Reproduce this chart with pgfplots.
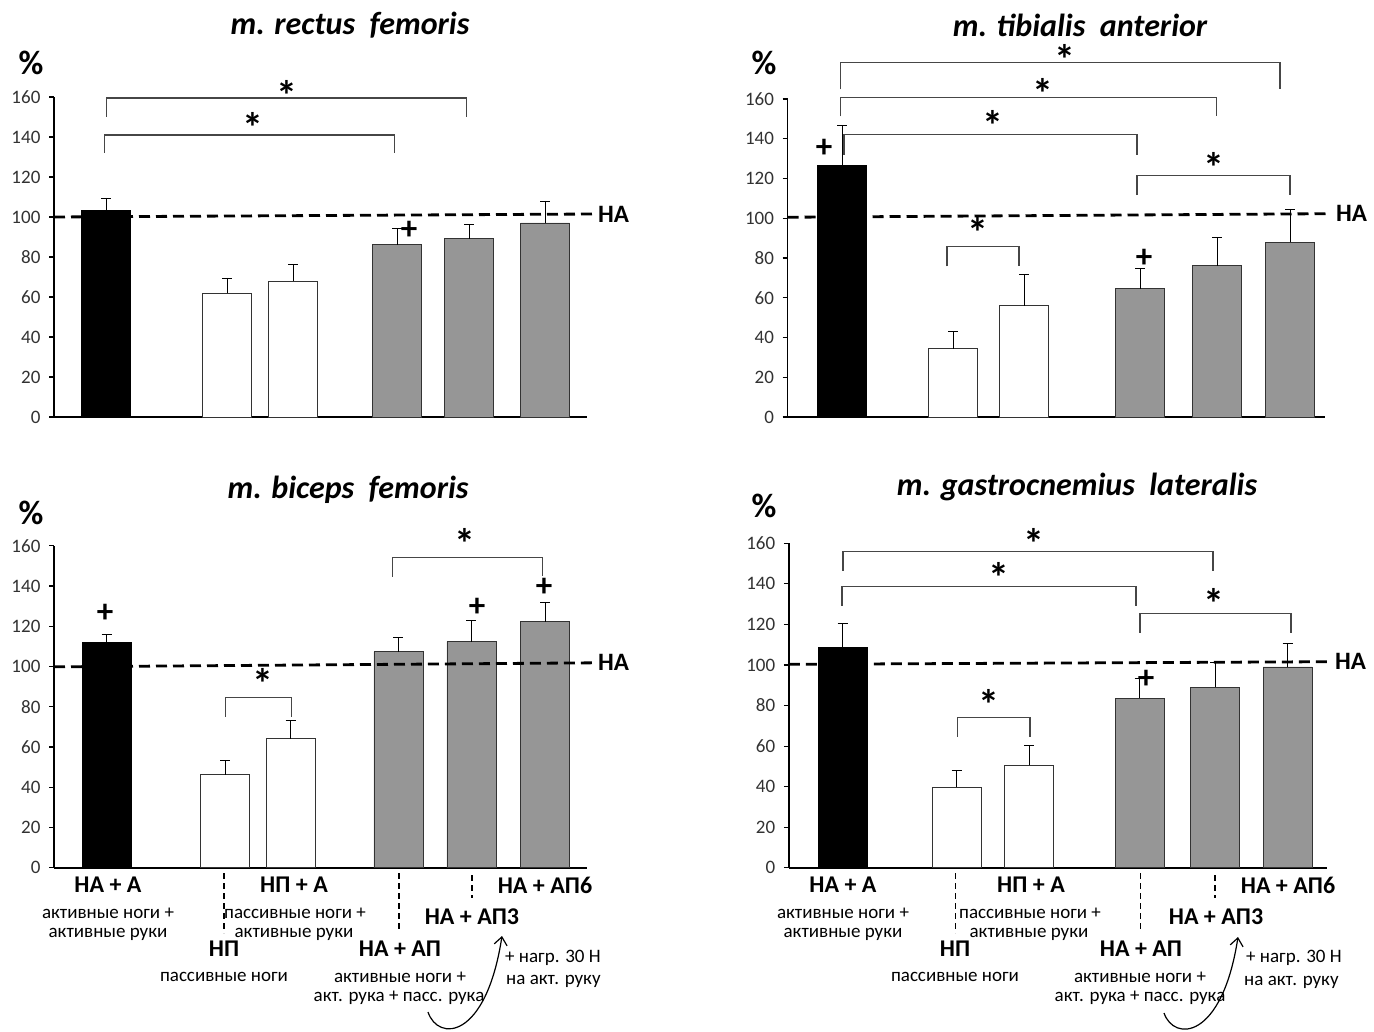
\documentclass[border=0pt]{standalone}
\usepackage{pgfplots}
\pgfplotsset{compat=1.18}
\usepackage{fontspec}
\setmainfont{Carlito}
\usetikzlibrary{arrows.meta}
\definecolor{bargray}{RGB}{150,150,150}
\definecolor{tickgray}{RGB}{50,50,50}
\definecolor{brk}{RGB}{70,70,70}
\pgfplotsset{
  panel/.style={
    scale only axis, clip=false, anchor=south west,
    axis x line*=bottom, axis y line*=left,
    ymin=0, ymax=160, ytick={0,20,40,60,80,100,120,140,160},
    yticklabels={0,20,40,60,80,100,120,140,160},
    xtick=\empty,
    tick align=outside, major tick length=5pt,
    yticklabel style={font=\fontsize{10}{10}\selectfont, scale=1.9, text=tickgray, xshift=-1pt},
    x axis line style={line width=2.2pt},
    y axis line style={line width=1.4pt},
    ytick style={line width=1.1pt, black},
  },
  errs/.style={
    error bars/y dir=plus, error bars/y explicit,
    error bars/error bar style={line width=0.8pt, black},
    error bars/error mark options={rotate=90, mark size=5pt, line width=0.8pt, black},
  },
  bk/.style={ybar, bar width=49pt, bar shift=0pt, fill=black, draw=black, line width=0.8pt, errs},
  wh/.style={ybar, bar width=49pt, bar shift=0pt, fill=white, draw=black!80, line width=0.8pt, errs},
  gr/.style={ybar, bar width=49pt, bar shift=0pt, fill=bargray, draw=black!80, line width=0.8pt, errs},
  naline/.style={black, line width=2.8pt, dash pattern=on 11pt off 6pt},
}
\tikzset{
  br/.style={brk, line width=1.1pt},
  st/.style={font=\fontsize{42}{42}\selectfont\bfseries, inner sep=0pt},
  pl/.style={font=\fontsize{33}{33}\selectfont\bfseries, inner sep=0pt},
  na/.style={font=\fontsize{25}{25}\selectfont\bfseries, anchor=west, inner sep=0pt},
  ttl/.style={font=\fontsize{32}{32}\selectfont\bfseries\itshape},
  pct/.style={font=\fontsize{34}{34}\selectfont\bfseries},
  bl/.style={font=\fontsize{24}{24}\selectfont\bfseries, inner sep=0pt},
  rl/.style={font=\fontsize{19}{19}\selectfont, inner sep=0pt},
  dl/.style={black, line width=1.3pt, dash pattern=on 6pt off 4pt},
  arr/.style={black, line width=1.2pt, -{Straight Barb[length=8pt,width=13pt]}},
}
\begin{document}
\begin{tikzpicture}[x=1pt,y=1pt]
\useasboundingbox (0,0) rectangle (1374,-1032);

% ---------- Panel 1: m. rectus femoris ----------
\begin{axis}[panel, at={(54pt,-417pt)}, xmin=54, xmax=587, width=533pt, height=320pt]
\addplot[bk] coordinates {(106,103.5) +- (0,6)};
\addplot[wh] coordinates {(227,61.8) +- (0,7.7) (293,68) +- (0,8.3)};
\addplot[gr] coordinates {(397,86.2) +- (0,8) (469,89.2) +- (0,7) (545,97) +- (0,11)};
\addplot[naline] coordinates {(54,100) (593,101.5)};
\node[na] at (axis cs:598,101.5) {НА};
\draw[br] (axis cs:106.7,150) -- (axis cs:106.7,159.5) -- (axis cs:466.6,159.5) -- (axis cs:466.6,150);
\node[st] at (axis cs:287,161) {*};
\draw[br] (axis cs:104.5,132) -- (axis cs:104.5,141) -- (axis cs:394.7,141) -- (axis cs:394.7,132);
\node[st] at (axis cs:253,145) {*};
\node[pl] at (axis cs:409,93.3) {+};
\end{axis}

% ---------- Panel 2: m. tibialis anterior ----------
\begin{axis}[panel, at={(787.5pt,-417pt)}, xmin=787.5, xmax=1325, width=537.5pt, height=318pt]
\addplot[bk] coordinates {(842,126.5) +- (0,20)};
\addplot[wh] coordinates {(953,34.4) +- (0,8.7) (1024,55.9) +- (0,15.6)};
\addplot[gr] coordinates {(1140,64.6) +- (0,10.1) (1217,76.2) +- (0,14.2) (1290,87.9) +- (0,16.5)};
\addplot[naline] coordinates {(787.5,100.5) (1331,102.3)};
\node[na] at (axis cs:1336,102.3) {НА};
\draw[br] (axis cs:840.7,164.8) -- (axis cs:840.7,178.5) -- (axis cs:1280,178.5) -- (axis cs:1280,164.8);
\node[st] at (axis cs:1065,180) {*};
\draw[br] (axis cs:840.7,151.3) -- (axis cs:840.7,160.9) -- (axis cs:1216.5,160.9) -- (axis cs:1216.5,151.3);
\node[st] at (axis cs:1043,163) {*};
\draw[br] (axis cs:844,132) -- (axis cs:844,142.1) -- (axis cs:1137,142.1) -- (axis cs:1137,132);
\node[st] at (axis cs:993,146.5) {*};
\draw[br] (axis cs:1137,111.6) -- (axis cs:1137,121.5) -- (axis cs:1290,121.5) -- (axis cs:1290,111.6);
\node[st] at (axis cs:1214,125.5) {*};
\draw[br] (axis cs:947,75.8) -- (axis cs:947,85.9) -- (axis cs:1019,85.9) -- (axis cs:1019,75.8);
\node[st] at (axis cs:978,93) {*};
\node[pl] at (axis cs:824,135.4) {+};
\node[pl] at (axis cs:1144,80) {+};
\end{axis}

% ---------- Panel 3: m. biceps femoris ----------
\begin{axis}[panel, at={(54pt,-867.7pt)}, xmin=54, xmax=587, width=533pt, height=322pt]
\addplot[bk] coordinates {(106.6,111.8) +- (0,4.3)};
\addplot[wh] coordinates {(225,46.2) +- (0,6.9) (290.6,64.2) +- (0,9.1)};
\addplot[gr] coordinates {(398.4,107.3) +- (0,6.9) (471.4,112.3) +- (0,10.4) (545,122.2) +- (0,9.6)};
\addplot[naline] coordinates {(54,99.8) (593,101.8)};
\node[na] at (axis cs:598,101.8) {НА};
\draw[br] (axis cs:392.5,144.5) -- (axis cs:392.5,154.1) -- (axis cs:542.6,154.1) -- (axis cs:542.6,144.9);
\node[st] at (axis cs:464.5,161) {*};
\draw[br] (axis cs:225.6,75) -- (axis cs:225.6,84.6) -- (axis cs:291.5,84.6) -- (axis cs:291.5,75);
\node[st] at (axis cs:262.5,91.5) {*};
\node[pl] at (axis cs:105,126.3) {+};
\node[pl] at (axis cs:477,129.6) {+};
\node[pl] at (axis cs:544,139.2) {+};
\end{axis}

% ---------- Panel 4: m. gastrocnemius lateralis ----------
\begin{axis}[panel, at={(788.8pt,-867.7pt)}, xmin=788.8, xmax=1327, width=538.2pt, height=324.4pt]
\addplot[bk] coordinates {(842.6,108.6) +- (0,12)};
\addplot[wh] coordinates {(956.6,39.8) +- (0,8.1) (1029,50.5) +- (0,9.9)};
\addplot[gr] coordinates {(1139.5,83.6) +- (0,9.8) (1215,89.1) +- (0,12.1) (1287.6,99) +- (0,11.4)};
\addplot[naline] coordinates {(788.8,100.3) (1331,101.6)};
\node[na] at (axis cs:1335,101.6) {НА};
\draw[br] (axis cs:843,146.5) -- (axis cs:843,156.1) -- (axis cs:1213,156.1) -- (axis cs:1213,146.5);
\node[st] at (axis cs:1034,160) {*};
\draw[br] (axis cs:842,129.1) -- (axis cs:842,138.7) -- (axis cs:1136,138.7) -- (axis cs:1136,129.1);
\node[st] at (axis cs:999,143) {*};
\draw[br] (axis cs:1140,116) -- (axis cs:1140,125.5) -- (axis cs:1291,125.5) -- (axis cs:1291,116);
\node[st] at (axis cs:1214,130.5) {*};
\draw[br] (axis cs:957.5,64.6) -- (axis cs:957.5,74.2) -- (axis cs:1030,74.2) -- (axis cs:1030,64.6);
\node[st] at (axis cs:989,80.5) {*};
\node[pl] at (axis cs:1146,92.9) {+};
\end{axis}

% ---------- titles and % ----------
\node[ttl] at (350,-25) {m. rectus\ \ femoris};
\node[ttl] at (1080,-25) {m. tibialis\ \ anterior};
\node[ttl] at (348,-490) {m. biceps\ \ femoris};
\node[ttl] at (1077,-487) {m. gastrocnemius\ \ lateralis};
\node[pct] at (31,-63) {\%};
\node[pct] at (764,-63) {\%};
\node[pct] at (31,-513) {\%};
\node[pct] at (764,-506) {\%};

% ---------- bottom labels, panel 3 ----------
\node[bl] at (108,-885) {НА + А};
\node[rl] at (108,-913) {активные ноги +};
\node[rl] at (108,-934) {активные руки};
\draw[dl] (224,-873) -- (224,-933);
\node[bl] at (294,-885) {НП + А};
\node[rl] at (295,-913) {пассивные ноги +};
\node[rl] at (294,-934) {активные руки};
\draw[dl] (399,-873) -- (399,-932);
\draw[dl] (472,-875) -- (472,-898);
\node[bl] at (545,-885) {НА + АП6};
\node[bl] at (472,-917) {НА + АП3};
\node[bl] at (224,-949) {НП};
\node[rl] at (224,-977) {пассивные ноги};
\node[bl] at (400,-949) {НА + АП};
\node[rl] at (400,-977) {активные ноги +};
\node[rl] at (399,-998) {акт. рука + пасс. рука};
\node[rl, anchor=west] at (505,-958) {+ нагр. 30 Н};
\node[rl, anchor=west] at (506,-981) {на акт. руку};
\draw[arr] (428,-1012) .. controls (438,-1042) and (486,-1040) .. (502,-936);

% ---------- bottom labels, panel 4 ----------
\node[bl] at (843,-885) {НА + А};
\node[rl] at (843,-913) {активные ноги +};
\node[rl] at (843,-934) {активные руки};
\draw[dl] (955.4,-873) -- (955.4,-933);
\node[bl] at (1031,-885) {НП + А};
\node[rl] at (1030,-913) {пассивные ноги +};
\node[rl] at (1029,-934) {активные руки};
\draw[dl] (1140.6,-873) -- (1140.6,-932);
\draw[dl] (1215,-875) -- (1215,-898);
\node[bl] at (1288,-885) {НА + АП6};
\node[bl] at (1216,-917) {НА + АП3};
\node[bl] at (955,-949) {НП};
\node[rl] at (955,-977) {пассивные ноги};
\node[bl] at (1141,-949) {НА + АП};
\node[rl] at (1140,-977) {активные ноги +};
\node[rl] at (1140,-998) {акт. рука + пасс. рука};
\node[rl, anchor=west] at (1246,-958) {+ нагр. 30 Н};
\node[rl, anchor=west] at (1244,-982) {на акт. руку};
\draw[arr] (1164,-1013) .. controls (1174,-1042) and (1222,-1040) .. (1238,-937);
\end{tikzpicture}
\end{document}
